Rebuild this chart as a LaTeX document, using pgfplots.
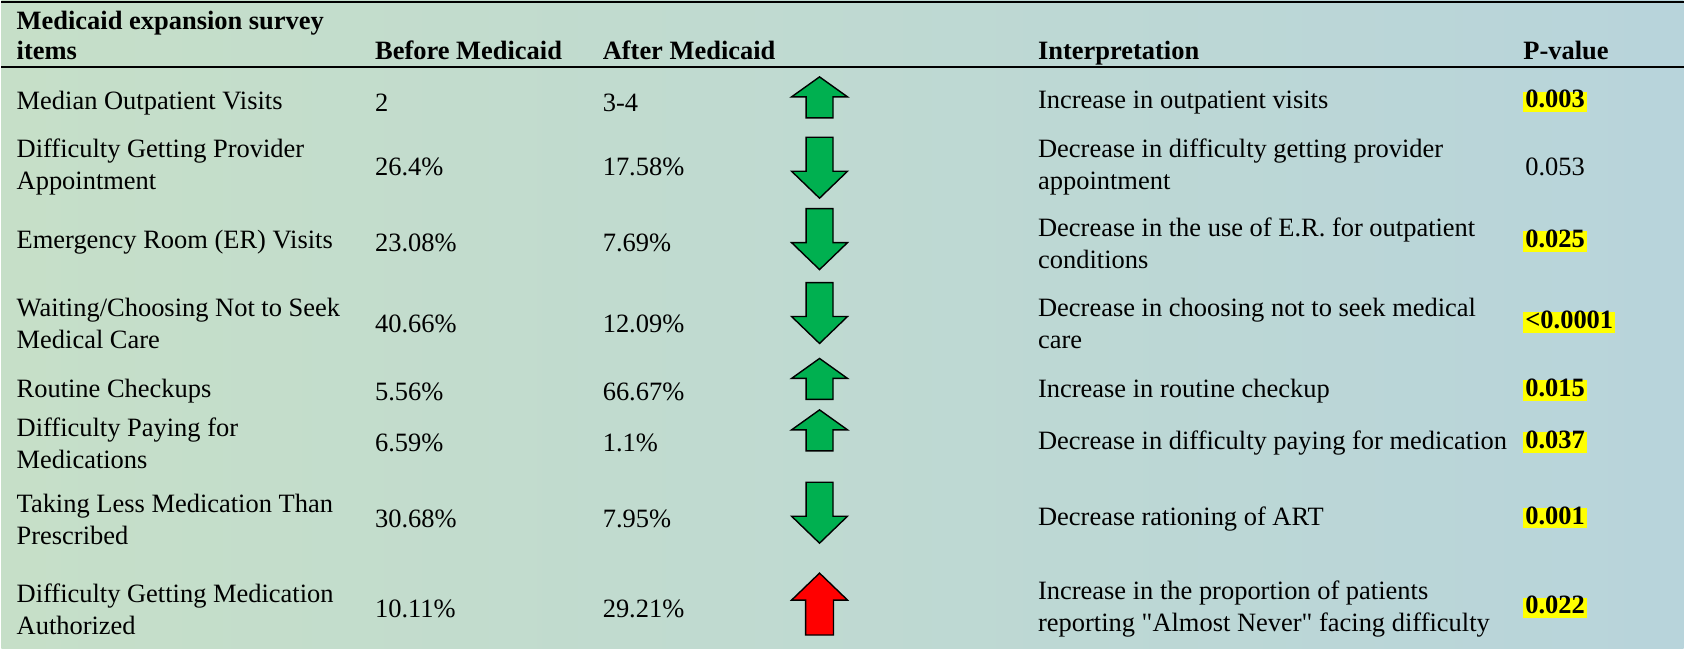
\documentclass[border=0pt]{standalone}
\usepackage{fontspec}
\setmainfont{Liberation Serif}
\newfontfamily\qfont{Liberation Serif}
\usepackage{pgfplots}
\pgfplotsset{compat=1.18}
\definecolor{agreen}{RGB}{0,176,80}
\definecolor{ared}{RGB}{255,0,0}
\definecolor{hl}{RGB}{255,255,0}
\definecolor{bgl}{RGB}{198,223,200}
\definecolor{bgm}{RGB}{222,238,238}
\definecolor{bgr}{RGB}{184,212,219}
\tikzset{
  tx/.style={anchor=west, align=left, inner sep=0pt, font=\fontsize{13.25}{16}\selectfont},
  hd/.style={anchor=base west, align=left, inner sep=0pt, font=\fontsize{13.25}{16}\selectfont\bfseries},
  pv/.style={anchor=west, inner sep=0pt, font=\fontsize{13.25}{16}\selectfont\bfseries, fill=hl, inner xsep=1pt, text height=0.8em, text depth=0.22em},
}
% arrow marks (1 px = 0.5pt)
\pgfdeclareplotmark{upS}{%
 \pgfpathmoveto{\pgfpoint{0pt}{10.25pt}}%
 \pgfpathlineto{\pgfpoint{14pt}{0.25pt}}%
 \pgfpathlineto{\pgfpoint{6.75pt}{0.25pt}}%
 \pgfpathlineto{\pgfpoint{6.75pt}{-10.25pt}}%
 \pgfpathlineto{\pgfpoint{-6.75pt}{-10.25pt}}%
 \pgfpathlineto{\pgfpoint{-6.75pt}{0.25pt}}%
 \pgfpathlineto{\pgfpoint{-14pt}{0.25pt}}%
 \pgfpathclose\pgfusepathqfillstroke}
\pgfdeclareplotmark{downL}{%
 \pgfpathmoveto{\pgfpoint{0pt}{-15.25pt}}%
 \pgfpathlineto{\pgfpoint{14pt}{-1.75pt}}%
 \pgfpathlineto{\pgfpoint{6.75pt}{-1.75pt}}%
 \pgfpathlineto{\pgfpoint{6.75pt}{15.25pt}}%
 \pgfpathlineto{\pgfpoint{-6.75pt}{15.25pt}}%
 \pgfpathlineto{\pgfpoint{-6.75pt}{-1.75pt}}%
 \pgfpathlineto{\pgfpoint{-14pt}{-1.75pt}}%
 \pgfpathclose\pgfusepathqfillstroke}
\pgfdeclareplotmark{upL}{%
 \pgfpathmoveto{\pgfpoint{0pt}{15.5pt}}%
 \pgfpathlineto{\pgfpoint{14pt}{2pt}}%
 \pgfpathlineto{\pgfpoint{7pt}{2pt}}%
 \pgfpathlineto{\pgfpoint{7pt}{-15.5pt}}%
 \pgfpathlineto{\pgfpoint{-7pt}{-15.5pt}}%
 \pgfpathlineto{\pgfpoint{-7pt}{2pt}}%
 \pgfpathlineto{\pgfpoint{-14pt}{2pt}}%
 \pgfpathclose\pgfusepathqfillstroke}
\begin{document}
\begin{tikzpicture}
\begin{axis}[
  width=842.5pt, height=324.5pt, scale only axis,
  xmin=0, xmax=1685, ymin=0, ymax=649, y dir=reverse,
  axis line style={draw=none}, xtick=\empty, ytick=\empty,
  clip=false,
  axis background/.style={left color=bgl, middle color=bgm, right color=bgr},
]
\draw[line width=1.3pt] (axis cs:0,2) -- (axis cs:1685,2);
\draw[line width=1.3pt] (axis cs:0,67) -- (axis cs:1685,67);
% header (baselines)
\node[hd] at (axis cs:15,30) {Medicaid expansion survey};
\node[hd] at (axis cs:15,60) {items};
\node[hd] at (axis cs:374,60) {Before Medicaid};
\node[hd] at (axis cs:602,60) {After Medicaid};
\node[hd] at (axis cs:1038,60) {Interpretation};
\node[hd] at (axis cs:1524,60) {P-value};
% column 1
\node[tx] at (axis cs:15,103) {Median Outpatient Visits};
\node[tx] at (axis cs:15,167) {Difficulty Getting Provider\\Appointment};
\node[tx] at (axis cs:15,243) {Emergency Room (ER) Visits};
\node[tx] at (axis cs:15,324) {Waiting/Choosing Not to Seek\\Medical Care};
\node[tx] at (axis cs:15,392) {Routine Checkups};
\node[tx] at (axis cs:15,444) {Difficulty Paying for\\Medications};
\node[tx] at (axis cs:15,520) {Taking Less Medication Than\\Prescribed};
\node[tx] at (axis cs:15,610) {Difficulty Getting Medication\\Authorized};
% before
\node[tx] at (axis cs:374,103) {2};
\node[tx] at (axis cs:374,167) {26.4\%};
\node[tx] at (axis cs:374,243) {23.08\%};
\node[tx] at (axis cs:374,324) {40.66\%};
\node[tx] at (axis cs:374,392) {5.56\%};
\node[tx] at (axis cs:374,444) {6.59\%};
\node[tx] at (axis cs:374,520) {30.68\%};
\node[tx] at (axis cs:374,610) {10.11\%};
% after
\node[tx] at (axis cs:602,103) {3-4};
\node[tx] at (axis cs:602,167) {17.58\%};
\node[tx] at (axis cs:602,243) {7.69\%};
\node[tx] at (axis cs:602,324) {12.09\%};
\node[tx] at (axis cs:602,392) {66.67\%};
\node[tx] at (axis cs:602,444) {1.1\%};
\node[tx] at (axis cs:602,520) {7.95\%};
\node[tx] at (axis cs:602,610) {29.21\%};
% arrows
\addplot[only marks, mark=upS, mark options={fill=agreen, draw=black, line width=0.7pt}] coordinates {(819.5,97.5) (819.5,379.5) (819.5,431)};
\addplot[only marks, mark=downL, mark options={fill=agreen, draw=black, line width=0.7pt}] coordinates {(819.5,168) (819.5,239.5) (819.5,313.5) (819.5,513.5)};
\addplot[only marks, mark=upL, mark options={fill=ared, draw=black, line width=0.7pt}] coordinates {(819.5,605)};
% interpretation
\node[tx] at (axis cs:1038,103) {Increase in outpatient visits};
\node[tx] at (axis cs:1038,167) {Decrease in difficulty getting provider\\appointment};
\node[tx] at (axis cs:1038,244) {Decrease in the use of E.R. for outpatient\\conditions};
\node[tx] at (axis cs:1038,324) {Decrease in choosing not to seek medical\\care};
\node[tx] at (axis cs:1038,392) {Increase in routine checkup};
\node[tx] at (axis cs:1038,444) {Decrease in difficulty paying for medication};
\node[tx] at (axis cs:1038,520) {Decrease rationing of ART};
\node[tx] at (axis cs:1038,610) {Increase in the proportion of patients\\reporting {\qfont"}Almost Never{\qfont"} facing difficulty};
% p-values
\node[pv] at (axis cs:1524,102) {0.003};
\node[tx] at (axis cs:1526,167) {0.053};
\node[pv] at (axis cs:1524,242) {0.025};
\node[pv] at (axis cs:1524,323) {<0.0001};
\node[pv] at (axis cs:1524,391) {0.015};
\node[pv] at (axis cs:1524,443) {0.037};
\node[pv] at (axis cs:1524,519) {0.001};
\node[pv] at (axis cs:1524,609) {0.022};
\end{axis}
\end{tikzpicture}
\end{document}
